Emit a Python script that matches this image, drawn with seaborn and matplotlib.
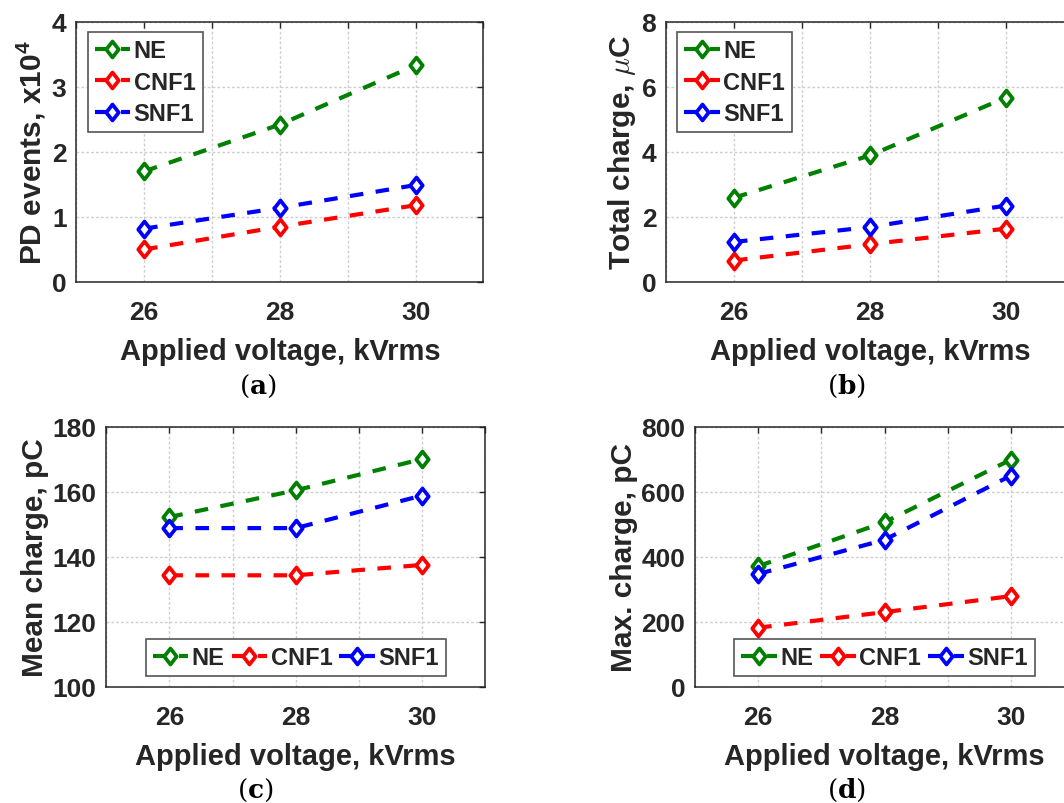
import matplotlib
matplotlib.use("Agg")
import matplotlib.pyplot as plt
import seaborn as sns
import pandas as pd
from matplotlib.path import Path

# Applied voltage (kVrms)
voltage = [26, 28, 30]
samples = ["NE", "CNF1", "SNF1"]

# (a) PD events, x10^4
pd_ne = [1.70, 2.42, 3.33]
pd_cnf1 = [0.50, 0.85, 1.18]
pd_snf1 = [0.82, 1.14, 1.49]

# (b) Total charge, uC
tot_ne = [2.59, 3.89, 5.67]
tot_cnf1 = [0.66, 1.16, 1.64]
tot_snf1 = [1.23, 1.69, 2.35]

# (c) Mean charge, pC
mean_ne = [152.2, 160.4, 170.0]
mean_cnf1 = [134.3, 134.3, 137.5]
mean_snf1 = [148.8, 148.8, 158.8]

# (d) Max. charge, pC
max_ne = [371, 506, 698]
max_cnf1 = [182, 230, 279]
max_snf1 = [347, 452, 649]

colors = {"NE": "#008000", "CNF1": "#ff0000", "SNF1": "#0000ff"}

sns.set_style("white")
plt.rcParams["font.family"] = ["Liberation Sans", "DejaVu Sans"]
plt.rcParams["font.weight"] = "bold"
plt.rcParams["mathtext.fontset"] = "custom"
plt.rcParams["mathtext.rm"] = "Liberation Sans:bold"
plt.rcParams["mathtext.bf"] = "Liberation Sans:bold"
plt.rcParams["axes.unicode_minus"] = False

DARK = "#262626"
diamond = Path([(0, 1), (0.78, 0), (0, -1), (-0.78, 0), (0, 1)],
               [Path.MOVETO, Path.LINETO, Path.LINETO, Path.LINETO, Path.CLOSEPOLY])

fig = plt.figure(figsize=(10.64, 8.04), dpi=100)
W, H = 1064, 804


def make_axes(left, top, right, bottom):
    return fig.add_axes([left / W, 1 - bottom / H, (right - left) / W, (bottom - top) / H])


def draw_panel(ax, series, ylim, yticks, ylabel, legend_kw, math_font=None):
    df = pd.DataFrame({
        "voltage": voltage * 3,
        "value": series[0] + series[1] + series[2],
        "sample": sum([[s] * 3 for s in samples], []),
    })
    for name in samples:
        sub = df[df["sample"] == name]
        sns.lineplot(data=sub, x="voltage", y="value", ax=ax, errorbar=None,
                     color=colors[name], linewidth=3.0, linestyle=(0, (3.25, 3.0)),
                     marker=diamond, markersize=11.5, markeredgewidth=2.7,
                     markerfacecolor="white", markeredgecolor=colors[name],
                     label=name, legend=False)
    ax.set_xlim(25, 31)
    ax.set_ylim(*ylim)
    ax.set_xticks(range(25, 32))
    ax.set_xticklabels(["", "26", "", "28", "", "30", ""])
    ax.set_yticks(yticks)
    ax.set_yticklabels([str(t) for t in yticks])
    ax.grid(True, color="#cfcfcf", linestyle=(0, (2, 1.5)), linewidth=1.0)
    ax.set_axisbelow(True)
    ax.tick_params(direction="in", length=4, width=1, colors=DARK,
                   top=True, right=True, labelsize=19)
    ax.tick_params(axis="x", pad=13)
    ax.tick_params(axis="y", pad=7)
    for lab in ax.get_xticklabels() + ax.get_yticklabels():
        lab.set_fontweight("bold")
    for sp in ax.spines.values():
        sp.set_color(DARK)
        sp.set_linewidth(1.1)
    ax.set_xlabel("Applied voltage, kVrms", fontsize=21, fontweight="bold",
                  color=DARK, labelpad=9)
    yl = ax.set_ylabel(ylabel, fontsize=21.5, fontweight="bold", color=DARK, labelpad=2.5)
    if math_font:
        yl.set_math_fontfamily(math_font)
    handles, labels = ax.get_legend_handles_labels()
    leg = ax.legend(handles, labels, prop={"family": "Liberation Sans", "weight": "bold", "size": 17},
                    handlelength=1.5, handletextpad=0.15, labelspacing=0.35,
                    borderpad=0.3, borderaxespad=0, fancybox=False, framealpha=1,
                    edgecolor="#555555", **legend_kw)
    leg.get_frame().set_linewidth(1.2)


ax_a = make_axes(76.3, 22.7, 483.5, 283.0)
draw_panel(ax_a, [pd_ne, pd_cnf1, pd_snf1], (0, 4), [0, 1, 2, 3, 4],
           r"PD events, x10$^{\mathbf{4}}$",
           dict(loc="upper left", bbox_to_anchor=(0.028, 0.959)))

ax_b = make_axes(666.0, 22.7, 1074.0, 283.0)
draw_panel(ax_b, [tot_ne, tot_cnf1, tot_snf1], (0, 8), [0, 2, 4, 6, 8],
           r"Total charge, $\mu$C",
           dict(loc="upper left", bbox_to_anchor=(0.027, 0.959)), math_font="cm")

ax_c = make_axes(106.2, 427.5, 485.3, 688.0)
draw_panel(ax_c, [mean_ne, mean_cnf1, mean_snf1], (100, 180), [100, 120, 140, 160, 180],
           "Mean charge, pC",
           dict(loc="lower center", bbox_to_anchor=(0.5, 0.041), ncol=3, columnspacing=0.3))

ax_d = make_axes(695.0, 427.5, 1074.0, 688.0)
draw_panel(ax_d, [max_ne, max_cnf1, max_snf1], (0, 800), [0, 200, 400, 600, 800],
           "Max. charge, pC",
           dict(loc="lower center", bbox_to_anchor=(0.5, 0.041), ncol=3, columnspacing=0.3))

captions = [("a", 257.5, 386), ("b", 846, 386), ("c", 255, 790), ("d", 846, 790)]
for letter, cx, cy in captions:
    t = fig.text(cx / W, 1 - cy / H, "(" + r"$\mathbf{" + letter + "}$" + ")",
                 family="DejaVu Serif", fontweight="normal", fontsize=19,
                 ha="center", va="center", color="black")
    t.set_math_fontfamily("dejavuserif")

fig.savefig("out.png", dpi=100, facecolor="white")
